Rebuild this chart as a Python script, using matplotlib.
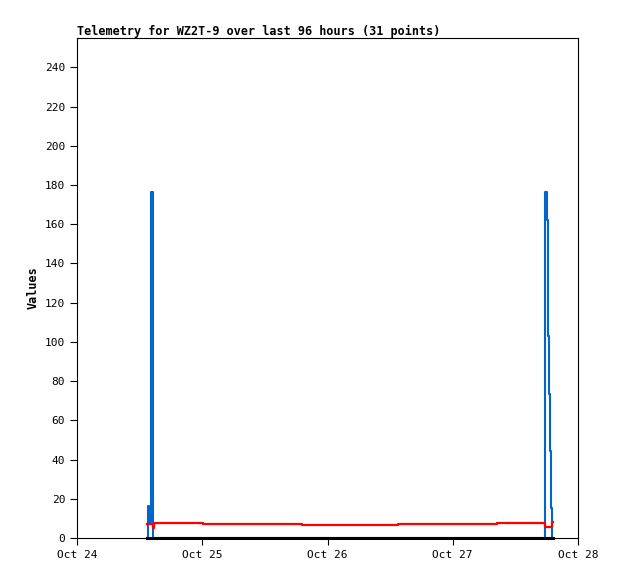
import matplotlib
matplotlib.use('Agg')
import matplotlib.pyplot as plt
import pandas as pd

# Telemetry series (times on Oct 24-27)
blue_times = ['2023-10-24 13:21', '2023-10-24 13:36', '2023-10-24 13:51', '2023-10-24 14:07',
              '2023-10-24 14:30', '2023-10-27 17:45', '2023-10-27 18:00', '2023-10-27 18:11',
              '2023-10-27 18:20', '2023-10-27 18:31', '2023-10-27 18:43', '2023-10-27 18:53',
              '2023-10-27 19:05']
blue_vals = [0, 16.3, 8.3, 176.7, 0, 176.7, 162.4, 132.4, 103.2, 73.5, 44.4, 15.3, 0]

red_times = ['2023-10-24 13:21', '2023-10-24 14:30', '2023-10-24 14:45', '2023-10-25 00:09',
             '2023-10-25 19:04', '2023-10-26 13:30', '2023-10-27 08:25', '2023-10-27 17:45',
             '2023-10-27 19:00', '2023-10-27 19:18']
red_vals = [7.0, 5.3, 7.8, 7.3, 6.8, 7.2, 7.7, 5.8, 8.2, 8.2]

black_times = ['2023-10-24 13:21', '2023-10-27 19:18']
black_vals = [0, 0]

x_ticks = ['2023-10-24', '2023-10-25', '2023-10-26', '2023-10-27', '2023-10-28']
tick_labels = ['Oct 24', 'Oct 25', 'Oct 26', 'Oct 27', 'Oct 28']
y_ticks = list(range(0, 241, 20))

plt.rcParams['font.family'] = 'DejaVu Sans Mono'

fig = plt.figure(figsize=(6.18, 5.79), dpi=100)
ax = fig.add_axes([77 / 618, 41 / 579, 501 / 618, 500 / 579])

ax.plot(pd.to_datetime(blue_times), blue_vals, color='#0066cc', lw=1.5, drawstyle='steps-post')
ax.plot(pd.to_datetime(red_times), red_vals, color='#ff0000', lw=1.6, drawstyle='steps-post')
ax.plot(pd.to_datetime(black_times), black_vals, color='black', lw=2.2,
        drawstyle='steps-post', clip_on=False)

xt = pd.to_datetime(x_ticks)
ax.set_xlim(xt[0], xt[-1])
ax.set_xticks(xt)
ax.set_xticklabels(tick_labels)
ax.set_ylim(0, 255)
ax.set_yticks(y_ticks)

ax.tick_params(direction='out', length=5, width=0.8, labelsize=8, colors='black')
for s in ax.spines.values():
    s.set_linewidth(0.8)

ax.set_ylabel('Values', fontsize=8.5, fontweight='bold')
ax.set_title('Telemetry for WZ2T-9 over last 96 hours (31 points)', loc='left',
             fontsize=8.5, fontweight='bold', pad=1.5)

fig.savefig('out.png', dpi=100)
